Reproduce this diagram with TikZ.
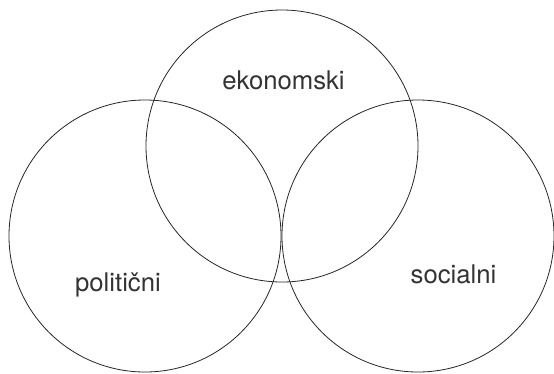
\documentclass[tikz,border=0pt]{standalone}
\usepackage{fontspec}
\setmainfont{TeX Gyre Heros}

\begin{document}
\begin{tikzpicture}[
  x=1pt, y=-1pt,
  venn/.style={circle, draw=black!85, line width=0.8pt, minimum size=272pt, inner sep=0pt},
  area/.style={text=black!80, inner sep=0pt, anchor=base, font=\fontsize{25.7}{30}\selectfont}
]
  \useasboundingbox (0,0) rectangle (554,373);

  \node[venn] (eko) at (282,146) {};
  \node[venn] (pol) at (145,236) {};
  \node[venn] (soc) at (418,236) {};

  \node[area] (ekotext) at (283.5,89) {ekonomski};
  \node[area] (poltext) at (118,291) {politični};
  \node[area] (soctext) at (453.5,283) {socialni};
\end{tikzpicture}
\end{document}
